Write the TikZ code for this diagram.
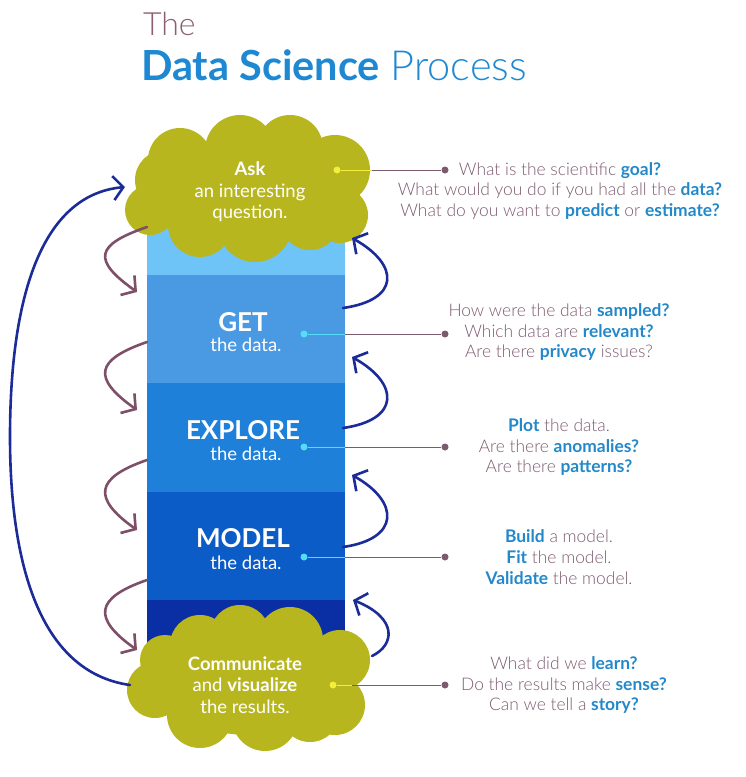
\documentclass[tikz,border=0pt]{standalone}
\usepackage{fontspec}
\setmainfont{Lato}
\newfontfamily\lightf{Lato Light}
\usetikzlibrary{arrows.meta,calc}
\definecolor{cloudc}{HTML}{B7B61F}
\definecolor{bandA}{HTML}{6EC3F7}
\definecolor{bandB}{HTML}{4A9AE3}
\definecolor{bandC}{HTML}{1F80DA}
\definecolor{bandD}{HTML}{0B5CC6}
\definecolor{bandE}{HTML}{0A2FA5}
\definecolor{mauve}{HTML}{7E4F69}
\definecolor{txtm}{HTML}{7D5B6F}
\definecolor{hl}{HTML}{2388C9}
\definecolor{navy}{HTML}{1B2C98}
\definecolor{cyandot}{HTML}{55DDF7}
\definecolor{ydot}{HTML}{F2EE3A}
\definecolor{titleblue}{HTML}{1E88D2}
\definecolor{themauve}{HTML}{8A5F73}
\newcommand\hlt[1]{{\normalfont\bfseries\color{hl}#1}}
\begin{document}
\begin{tikzpicture}[x=1pt,y=-1pt,
  txt/.style={inner sep=0pt,outer sep=0pt},
  side/.style={txt,align=center,text=txtm,font=\lightf\fontsize{17.4}{20.8}\selectfont},
  cloudtxt/.style={txt,align=center,text=white,font=\fontsize{18.5}{21.5}\selectfont},
  steptxt/.style={txt,text=white,font=\bfseries\fontsize{26}{26}\selectfont},
  subtxt/.style={txt,text=white,font=\fontsize{18.5}{18.5}\selectfont},
  mauvearrow/.style={draw=mauve,line width=2.6pt,line cap=round,-{Straight Barb[length=10pt,width=24pt,line width=2.6pt]}},
  bluearrow/.style={draw=navy,line width=2.6pt,line cap=round,-{Straight Barb[length=10pt,width=24pt,line width=2.6pt]}},
  link/.style={draw=txtm,line width=0.9pt},
  mdot/.style={fill=txtm,circle,inner sep=0pt,minimum size=7pt},
  cdot/.style={fill=cyandot,circle,inner sep=0pt,minimum size=7pt},
  ydotst/.style={fill=ydot,circle,inner sep=0pt,minimum size=7pt},
]
\useasboundingbox (0,0) rectangle (745,777);
% title
\node[txt,anchor=base west,text=themauve,font=\lightf\fontsize{32}{32}\selectfont] (the) at (143,35) {The};
\node[txt,anchor=base west,font=\fontsize{41.5}{41.5}\selectfont] (dsp) at (141,80) {\textcolor{titleblue}{\bfseries Data Science} \textcolor{titleblue}{\lightf Process}};
% column bands
\fill[bandA] (147,205) rectangle (345,275);
\fill[bandB] (147,275) rectangle (345,383);
\fill[bandC] (147,383) rectangle (345,492);
\fill[bandD] (147,492) rectangle (345,600);
\fill[bandE] (147,600) rectangle (345,660);
% top cloud
\fill[cloudc] (250,190) ellipse[x radius=92pt,y radius=55pt];
\foreach \cx/\cy/\r in {180/160/32,240/150/35,290/148/33,335/170/35,150/210/25,340/215/28,200/225/32,255/225/37,310/220/30,165/180/30}
  \fill[cloudc] (\cx,\cy) circle[radius=\r pt];
% bottom cloud
\fill[cloudc] (250,680) ellipse[x radius=95pt,y radius=55pt];
\foreach \cx/\cy/\r in {200/645/30,240/635/30,290/640/33,340/660/30,155/690/28,335/705/30,200/715/33,265/718/33,310/712/30,165/660/25}
  \fill[cloudc] (\cx,\cy) circle[radius=\r pt];
% cloud texts
\node[cloudtxt] (ask) at (250,192) {{\bfseries Ask}\\an interesting\\question.};
\node[cloudtxt] (comm) at (245,685) {{\bfseries Communicate}\\and {\bfseries visualize}\\the results.};
% step texts
\node[steptxt] (getT) at (243,322) {GET};
\node[subtxt] (getS) at (246,345) {the data.};
\node[steptxt] (expT) at (243,430) {EXPLORE};
\node[subtxt] (expS) at (246,454) {the data.};
\node[steptxt] (modT) at (243,538) {MODEL};
\node[subtxt] (modS) at (246,563) {the data.};
% link dots
\node[ydotst] (y1) at (337,170) {};
\node[cdot] (c2) at (304,334) {};
\node[cdot] (c3) at (304,447) {};
\node[cdot] (c4) at (304,557) {};
\node[ydotst] (y5) at (333,685) {};
\coordinate (e1) at (372,170);
\coordinate (e2) at (345,334);
\coordinate (e3) at (345,447);
\coordinate (e4) at (345,557);
\coordinate (e5) at (352,685);
\node[mdot] (m1) at (445,170) {};
\node[mdot] (m2) at (445,334) {};
\node[mdot] (m3) at (445,447) {};
\node[mdot] (m4) at (445,557) {};
\node[mdot] (m5) at (445,685) {};
\draw[ydot,line width=1pt] (y1) -- (e1);
\draw[cyandot,line width=1pt] (c2) -- (e2);
\draw[cyandot,line width=1pt] (c3) -- (e3);
\draw[cyandot,line width=1pt] (c4) -- (e4);
\draw[ydot,line width=1pt] (y5) -- (e5);
\draw[link] (e1) -- (m1);
\draw[link] (e2) -- (m2);
\draw[link] (e3) -- (m3);
\draw[link] (e4) -- (m4);
\draw[link] (e5) -- (m5);
% side texts
\node[side] (q1) at (560,191) {What is the scientific \hlt{goal?}\\What would you do if you had all the \hlt{data?}\\What do you want to \hlt{predict} or \hlt{estimate?}};
\node[side] (q2) at (559,332) {How were the data \hlt{sampled?}\\Which data are \hlt{relevant?}\\Are there \hlt{privacy} issues?};
\node[side] (q3) at (559,447) {\hlt{Plot} the data.\\Are there \hlt{anomalies?}\\Are there \hlt{patterns?}};
\node[side] (q4) at (559,557) {\hlt{Build} a model.\\\hlt{Fit} the model.\\\hlt{Validate} the model.};
\node[side] (q5) at (564,685) {What did we \hlt{learn?}\\Do the results make \hlt{sense?}\\Can we tell a \hlt{story?}};
% mauve arrows (down)
\coordinate (ma1) at (147,227); \coordinate (mb1) at (137,292);
\coordinate (ma2) at (147,342); \coordinate (mb2) at (137,410);
\coordinate (ma3) at (147,460); \coordinate (mb3) at (137,530);
\coordinate (ma4) at (147,580); \coordinate (mb4) at (137,650);
\foreach \i in {1,2,3,4}{
  \draw[mauvearrow] (ma\i) .. controls ($(ma\i)+(-52,18)$) and ($(mb\i)+(-45,-32)$) .. (mb\i);
}
% blue arrows (up)
\coordinate (ba1) at (343,308); \coordinate (bb1) at (352,238);
\coordinate (ba2) at (343,428); \coordinate (bb2) at (352,357);
\coordinate (ba3) at (343,547); \coordinate (bb3) at (352,475);
\foreach \i in {1,2,3}{
  \draw[bluearrow] (ba\i) .. controls ($(ba\i)+(57,-8)$) and ($(bb\i)+(48,27)$) .. (bb\i);
}
\coordinate (ba4) at (372,656); \coordinate (bb4) at (353,600);
\draw[bluearrow] (ba4) .. controls (395,645) and (398,618) .. (bb4);
% big return arrow
\coordinate (bigS) at (130,685);
\coordinate (bigM) at (10,437);
\coordinate (bigE) at (125,187);
\draw[bluearrow] (bigS) .. controls (38,672) and (10,560) .. (bigM) .. controls (10,300) and (40,195) .. (bigE);
\end{tikzpicture}
\end{document}
